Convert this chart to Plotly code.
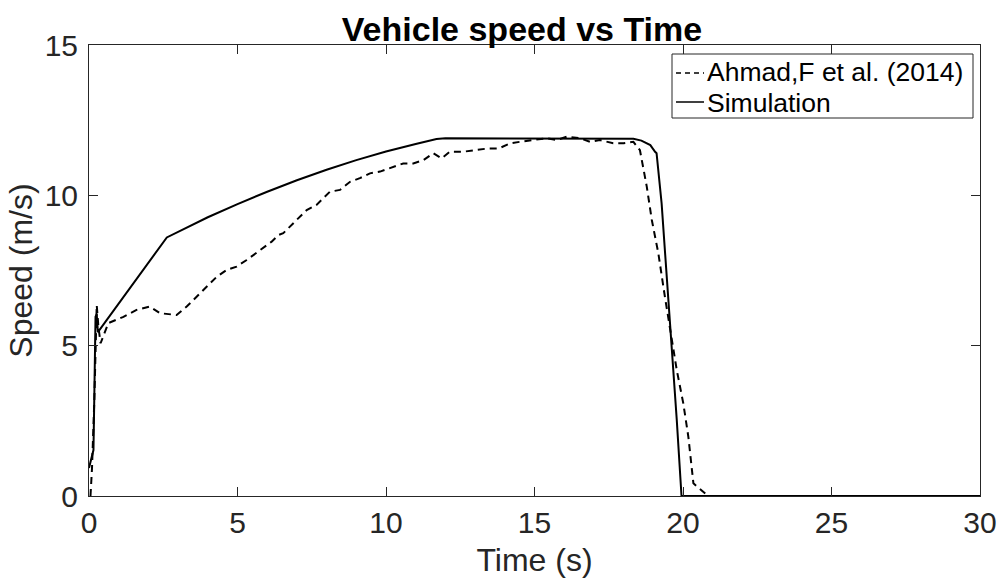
import plotly.graph_objects as go

# Simulation (solid)
sim_t = [0.0, 0.15, 0.17, 0.2, 0.22, 0.26, 0.3, 2.62, 3.0, 4.0, 5.0, 6.0, 7.0, 8.0, 9.0, 10.0, 11.0, 11.7,
         12.0, 14.0, 16.0, 18.0, 18.33, 18.6, 18.9, 19.06, 19.11, 19.28, 19.56, 19.79, 19.95, 25.0, 30.0]
sim_v = [0.93, 1.53, 2.76, 4.5, 5.96, 6.05, 5.45, 8.6, 8.79, 9.27, 9.71, 10.12, 10.5, 10.85, 11.17, 11.46, 11.71, 11.87,
         11.9, 11.9, 11.9, 11.9, 11.88, 11.82, 11.67, 11.45, 11.4, 9.73, 5.85, 2.53, 0.0, 0.0, 0.0]

# Ahmad, F et al. (2014) (dashed)
exp_t = [0.05, 0.1, 0.18, 0.22, 0.26, 0.32, 0.39, 0.65, 1.16, 1.6, 2.05, 2.39, 2.95, 3.29, 3.62, 3.96, 4.3, 4.64,
         4.97, 5.31, 5.76, 6.15, 6.38, 6.54, 6.99, 7.33, 7.66, 8.11, 8.45, 8.79, 9.12, 9.46, 9.8, 10.25, 10.58,
         10.92, 11.26, 11.59, 11.87, 12.15, 12.6, 13.05, 13.44, 13.8, 14.18, 14.51, 14.96, 15.41, 15.75, 16.08,
         16.53, 16.87, 17.2, 17.65, 18.0, 18.33, 18.55, 18.78, 18.95, 19.17, 19.39, 19.56, 19.79, 20.01, 20.18,
         20.35, 20.63, 20.85, 25.0, 30.0]
exp_v = [0.0, 0.9, 3.2, 5.0, 6.35, 5.6, 5.08, 5.75, 5.96, 6.19, 6.3, 6.08, 6.02, 6.3, 6.63, 6.96, 7.29, 7.52,
         7.63, 7.85, 8.18, 8.46, 8.68, 8.74, 9.18, 9.51, 9.68, 10.12, 10.18, 10.45, 10.57, 10.73, 10.79, 10.95, 11.06,
         11.06, 11.17, 11.4, 11.23, 11.45, 11.45, 11.51, 11.56, 11.56, 11.73, 11.78, 11.84, 11.9, 11.84, 11.95,
         11.9, 11.78, 11.84, 11.73, 11.73, 11.78, 11.5, 10.29, 9.18, 8.07, 6.63, 5.63, 4.19, 3.08, 1.97,
         0.42, 0.2, 0.0, 0.0, 0.0]

series_names = ["Ahmad,F et al. (2014)", "Simulation"]
x_ticks = [0, 5, 10, 15, 20, 25, 30]
y_ticks = [0, 5, 10, 15]

FONT = "Liberation Sans, Arial, Helvetica, sans-serif"
W, H = 1000, 586
ML, MR, MT, MB = 89, 20, 45, 90
PW, PH = W - ML - MR, H - MT - MB


def px(xp):
    return (xp - ML) / PW


def py(yp):
    return (H - MB - yp) / PH


fig = go.Figure()
fig.add_trace(go.Scatter(x=exp_t, y=exp_v, mode="lines", name=series_names[0],
                         line=dict(color="black", width=2, dash="7px,5px"), showlegend=False))
fig.add_trace(go.Scatter(x=sim_t, y=sim_v, mode="lines", name=series_names[1],
                         line=dict(color="black", width=2), showlegend=False))

axis_common = dict(showgrid=False, zeroline=False, showline=True, linecolor="#262626", linewidth=1,
                   mirror="ticks", ticks="inside", ticklen=9, tickcolor="#262626", tickwidth=1,
                   automargin=False,
                   tickfont=dict(family=FONT, size=30, color="#262626"))

# manual MATLAB-style legend (box + samples + labels)
shapes = [
    dict(type="rect", xref="paper", yref="paper", x0=px(672), x1=px(973), y0=py(118), y1=py(54),
         line=dict(color="#262626", width=1), fillcolor="white", layer="above"),
    dict(type="line", xref="paper", yref="paper", x0=px(676), x1=px(704), y0=py(73), y1=py(73),
         line=dict(color="black", width=1.5, dash="5px,4px"), layer="above"),
    dict(type="line", xref="paper", yref="paper", x0=px(676), x1=px(704), y0=py(102), y1=py(102),
         line=dict(color="black", width=1.5), layer="above"),
]
annotations = [
    dict(text=series_names[0], xref="paper", yref="paper", x=px(705), y=py(72), xanchor="left",
         yanchor="middle", showarrow=False, font=dict(family=FONT, size=26.5, color="black")),
    dict(text=series_names[1], xref="paper", yref="paper", x=px(705), y=py(103), xanchor="left",
         yanchor="middle", showarrow=False, font=dict(family=FONT, size=26.5, color="black")),
]

fig.update_layout(
    width=W, height=H,
    margin=dict(l=ML, r=MR, t=MT, b=MB, autoexpand=False),
    paper_bgcolor="white", plot_bgcolor="white",
    title=dict(text="<b>Vehicle speed vs Time</b>", x=0.522, xanchor="center", y=0.95, yanchor="middle",
               font=dict(family=FONT, size=34, color="black"), automargin=False),
    xaxis=dict(range=[0, 30], tickvals=x_ticks, ticktext=[str(v) for v in x_ticks],
               title=dict(text="Time (s)", font=dict(family=FONT, size=32, color="#262626"), standoff=10),
               **axis_common),
    yaxis=dict(range=[0, 15], tickvals=y_ticks, ticktext=[str(v) for v in y_ticks],
               ticklabelstandoff=4,
               title=dict(text="Speed (m/s)", font=dict(family=FONT, size=32, color="#262626"), standoff=2),
               **axis_common),
    shapes=shapes,
    annotations=annotations,
    showlegend=False,
)

fig.write_html("out.html", config={"displayModeBar": False},
               post_script="document.body.style.margin='0px';document.body.style.padding='0px';")
